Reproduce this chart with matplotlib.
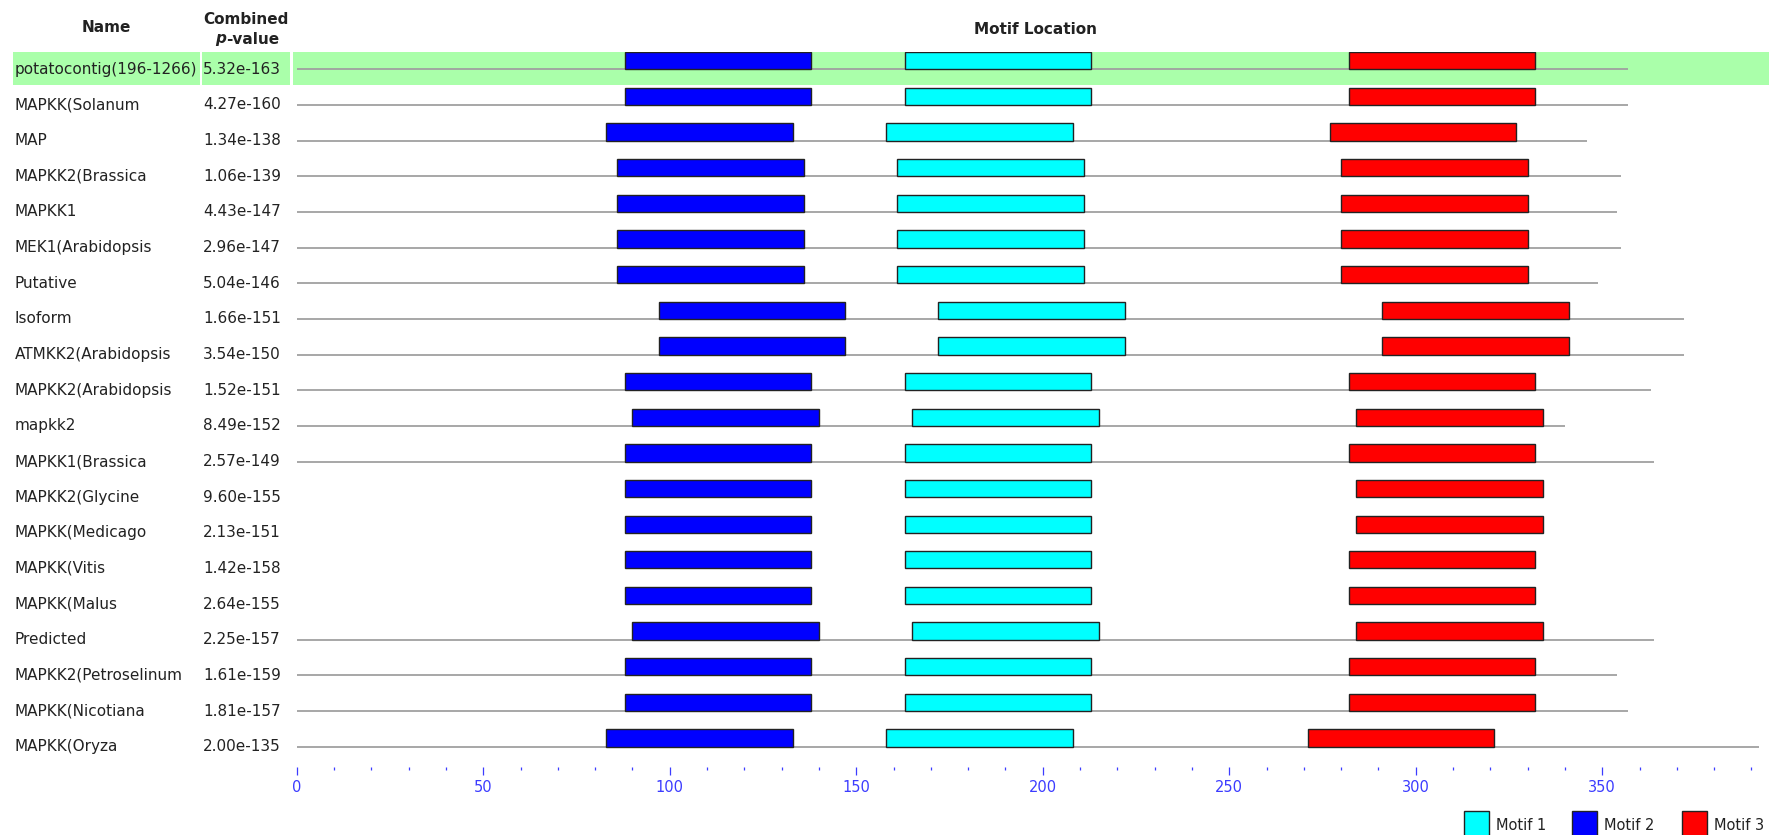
import matplotlib
matplotlib.use("Agg")
import matplotlib.pyplot as plt
from matplotlib.patches import Rectangle
from matplotlib.ticker import MultipleLocator
from matplotlib.transforms import blended_transform_factory

# ---- data -------------------------------------------------------------
names = [
    "potatocontig(196-1266)", "MAPKK(Solanum", "MAP", "MAPKK2(Brassica",
    "MAPKK1", "MEK1(Arabidopsis", "Putative", "Isoform",
    "ATMKK2(Arabidopsis", "MAPKK2(Arabidopsis", "mapkk2", "MAPKK1(Brassica",
    "MAPKK2(Glycine", "MAPKK(Medicago", "MAPKK(Vitis", "MAPKK(Malus",
    "Predicted", "MAPKK2(Petroselinum", "MAPKK(Nicotiana", "MAPKK(Oryza",
]
pvalues = [
    "5.32e-163", "4.27e-160", "1.34e-138", "1.06e-139",
    "4.43e-147", "2.96e-147", "5.04e-146", "1.66e-151",
    "3.54e-150", "1.52e-151", "8.49e-152", "2.57e-149",
    "9.60e-155", "2.13e-151", "1.42e-158", "2.64e-155",
    "2.25e-157", "1.61e-159", "1.81e-157", "2.00e-135",
]
# sequence lengths (None: no sequence line shown)
seq_length = [357, 357, 346, 355, 354, 355, 349, 372, 372, 363,
              340, 364, None, None, None, None, 364, 354, 357, 392]
motif1_start = [163, 163, 158, 161, 161, 161, 161, 172, 172, 163,
                165, 163, 163, 163, 163, 163, 165, 163, 163, 158]
motif2_start = [88, 88, 83, 86, 86, 86, 86, 97, 97, 88,
                90, 88, 88, 88, 88, 88, 90, 88, 88, 83]
motif3_start = [282, 282, 277, 280, 280, 280, 280, 291, 291, 282,
                284, 282, 284, 284, 282, 282, 284, 282, 282, 271]
motif_width = 50
motif_labels = ["Motif 1", "Motif 2", "Motif 3"]
motif_colors = ["#00ffff", "#0000ff", "#ff0000"]
highlight_row = 0

# ---- figure -----------------------------------------------------------
W, H = 1769, 835
fig = plt.figure(figsize=(W / 100, H / 100), dpi=100)
fig.patch.set_facecolor("white")

# background layer in pixel units for the table columns, headers, legend
bg = fig.add_axes([0, 0, 1, 1], zorder=0)
bg.set_xlim(0, W)
bg.set_ylim(H, 0)
bg.axis("off")

# motif location panel: x in residues, y in row index
ax_left, ax_right, ax_top, ax_bottom = 296.7, 296.7 + 392 * 3.73, 51.5, 766.7
ax = fig.add_axes([ax_left / W, (H - ax_bottom) / H,
                   (ax_right - ax_left) / W, (ax_bottom - ax_top) / H], zorder=1)
ax.patch.set_visible(False)
n = len(names)
ax.set_xlim(0, 392)
ax.set_ylim(n - 1 + 0.56, -0.5)
rows = list(range(n))

text_color = "#222222"
row_tf = blended_transform_factory(bg.transData, ax.transData)

# highlighted row
band_top, band_bot = -0.485, 0.44
for x0, x1 in [(13, 199.5), (202, 290), (293, W)]:
    bg.add_patch(Rectangle((x0, highlight_row + band_top), x1 - x0,
                           band_bot - band_top, transform=row_tf,
                           facecolor="#aaffaa", edgecolor="none", zorder=0))

# sequence lines
line_rows = [r for r in rows if seq_length[r] is not None]
ax.hlines(line_rows, 0, [seq_length[r] for r in line_rows],
          colors="#a0a0a0", linewidth=1.3, zorder=1)

# motif blocks sitting on the sequence line
bar_h = 0.485
for starts, color in zip([motif1_start, motif2_start, motif3_start], motif_colors):
    ax.barh([r - bar_h for r in rows], [motif_width] * n, left=starts,
            height=bar_h, align="edge", color=color,
            edgecolor="#222222", linewidth=1.0, zorder=2)

# x axis: ticks only
for s in ax.spines.values():
    s.set_visible(False)
ax.set_yticks([])
ax.xaxis.set_major_locator(MultipleLocator(50))
ax.xaxis.set_minor_locator(MultipleLocator(10))
tick_col = "#3c3cff"
ax.tick_params(axis="x", which="major", direction="out", length=5.5, width=0.9,
               color=tick_col, labelcolor=tick_col, labelsize=10.5, pad=4)
ax.tick_params(axis="x", which="minor", direction="out", length=2.2, width=0.9,
               color=tick_col)

# table text
for r in rows:
    bg.text(15, r, names[r], transform=row_tf, ha="left", va="center",
            fontsize=11, color=text_color)
    bg.text(203, r, pvalues[r], transform=row_tf, ha="left", va="center",
            fontsize=11, color=text_color)

# headers
bg.text(106, 28, "Name", ha="center", va="center", fontsize=11,
        fontweight="bold", color=text_color)
bg.text(246, 19, "Combined", ha="center", va="center", fontsize=11,
        fontweight="bold", color=text_color)
bg.text(226.5, 39, "p", ha="right", va="center", fontsize=11,
        fontweight="bold", fontstyle="italic", color=text_color)
bg.text(226.5, 39, "-value", ha="left", va="center", fontsize=11,
        fontweight="bold", color=text_color)
bg.text(1035, 30, "Motif Location", ha="center", va="center", fontsize=11,
        fontweight="bold", color=text_color)

# legend
for lx, label, color in zip([1464, 1572, 1682], motif_labels, motif_colors):
    bg.add_patch(Rectangle((lx, 811), 25, 26, facecolor=color,
                           edgecolor="#222222", linewidth=1.0, zorder=2))
    bg.text(lx + 32, 825, label, ha="left", va="center", fontsize=10.5,
            color=text_color)

fig.savefig("out.png", dpi=100, facecolor="white")
